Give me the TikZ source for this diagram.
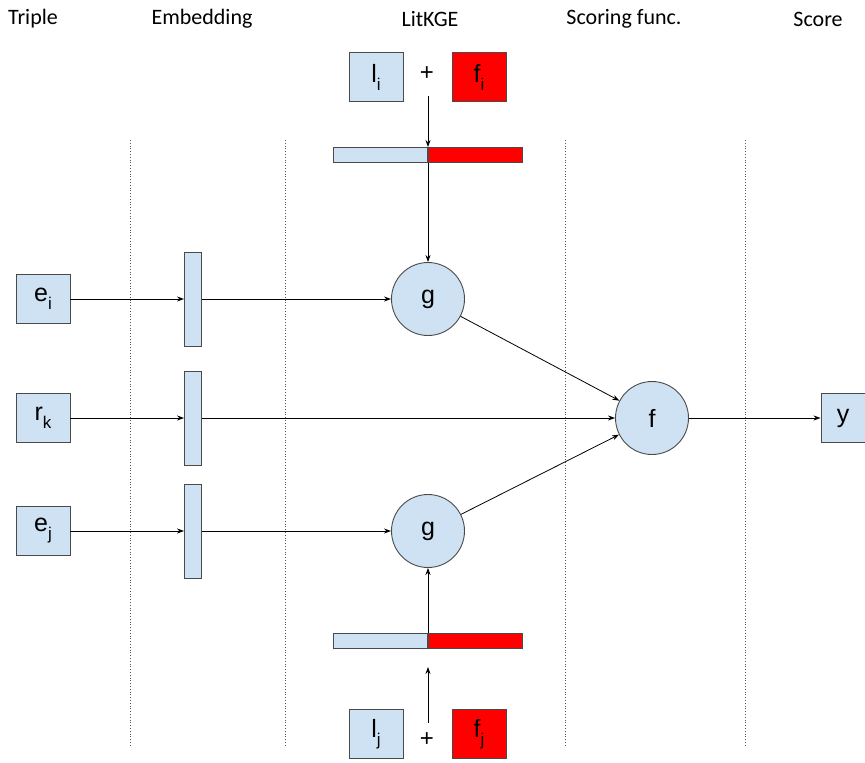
\documentclass[tikz,border=0pt]{standalone}
\usepackage{fontspec}
\setmainfont{Liberation Sans}
\newfontfamily\hdrfont{Carlito}
\usetikzlibrary{arrows.meta,positioning}
\definecolor{lightblue}{HTML}{CFE2F3}
\definecolor{edgegray}{HTML}{4A4A4A}
\definecolor{featred}{HTML}{FF0000}
\newcommand{\lowsub}[1]{\raisebox{-8pt}{\fontsize{17}{19}\selectfont #1}}

\begin{document}
\begin{tikzpicture}[x=1pt, y=-1pt, >={Stealth[length=7pt,width=5pt]},
    hdr/.style={font=\hdrfont\fontsize{22}{26}\selectfont},
    ent/.style={draw=edgegray, fill=lightblue, line width=0.9pt, minimum width=54, minimum height=49, inner sep=0pt, font=\fontsize{25}{30}\selectfont},
    feat/.style={ent, fill=featred},
    emb/.style={draw=edgegray, fill=lightblue, line width=0.9pt, minimum width=17, minimum height=94, inner sep=0pt},
    cbar/.style={draw=edgegray, fill=lightblue, line width=0.9pt, minimum width=94, minimum height=15, inner sep=0pt},
    comb/.style={circle, draw=edgegray, fill=lightblue, line width=0.9pt, minimum size=73, inner sep=0pt, font=\fontsize{25}{30}\selectfont},
    sep/.style={dotted, line width=0.8pt, gray!70!black},
    arr/.style={->, line width=0.8pt}]
  \useasboundingbox (0,0) rectangle (865,763);

  % column headers
  \node[hdr] (hTriple) at (33,19) {Triple};
  \node[hdr] (hEmb) at (202,19) {Embedding};
  \node[hdr] (hLit) at (430,19) {LitKGE};
  \node[hdr] (hScore) at (624,19) {Scoring func.};
  \node[hdr] (hOut) at (818,19) {Score};

  % separators
  \foreach \x in {130,285,565,745}
    \draw[sep] (\x,140) -- (\x,745);

  % triple
  \node[ent] (ei) at (43,299) {e\lowsub{i}};
  \node[ent] (rk) at (43,418) {r\lowsub{k}};
  \node[ent] (ej) at (43,531) {e\lowsub{j}};

  % embeddings
  \node[emb] (embi) at (193,299) {};
  \node[emb] (embk) at (193,418) {};
  \node[emb] (embj) at (193,531) {};

  % literal inputs, top
  \node[ent] (li) at (376,77) {l\lowsub{i}};
  \node[feat] (fi) at (479,77) {f\lowsub{i}};
  \node[font=\fontsize{24}{28}\selectfont] (plusi) at (427,74) {+};
  \node[cbar, anchor=east] (cli) at (428,155) {};
  \node[cbar, fill=featred, anchor=west] (cfi) at (428,155) {};
  \coordinate (srci) at (428,96);

  % literal inputs, bottom
  \node[ent] (lj) at (376,734) {l\lowsub{j}};
  \node[feat] (fj) at (479,734) {f\lowsub{j}};
  \node[font=\fontsize{24}{28}\selectfont] (plusj) at (427,740) {+};
  \node[cbar, anchor=east] (clj) at (428,641) {};
  \node[cbar, fill=featred, anchor=west] (cfj) at (428,641) {};
  \coordinate (srcj) at (428,723);
  \coordinate (tipj) at (428,667);

  % LitKGE, scoring, score
  \node[comb] (gi) at (428,299) {g};
  \node[comb] (gj) at (428,531) {g};
  \node[comb] (f) at (652,418) {f};
  \node[ent, minimum width=44] (y) at (843,418) {y};

  % connections
  \draw[arr] (ei) -- (embi);
  \draw[arr] (rk) -- (embk);
  \draw[arr] (ej) -- (embj);
  \draw[arr] (embi) -- (gi);
  \draw[arr] (embj) -- (gj);
  \draw[arr] (embk) -- (f);
  \draw[arr] (srci) -- (cli.north east);
  \draw[arr] (cli.south east) -- (gi);
  \draw[arr] (srcj) -- (tipj);
  \draw[arr] (clj.north east) -- (gj);
  \draw[arr] (gi) -- (f);
  \draw[arr] (gj) -- (f);
  \draw[arr] (f) -- (y);
\end{tikzpicture}
\end{document}
